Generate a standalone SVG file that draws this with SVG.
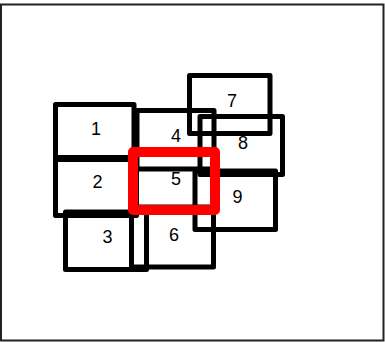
<svg xmlns="http://www.w3.org/2000/svg" width="385" height="342" viewBox="0 0 385 342">
<style>
.box{fill:none;stroke:#000;stroke-width:5;stroke-linejoin:round}
.sel{fill:none;stroke:#f00;stroke-width:10;stroke-linejoin:round}
.lbl{font-family:"Liberation Sans",Arial,sans-serif;font-size:18px;fill:#000;text-anchor:middle}
</style>
<rect x="1" y="4.5" width="382.5" height="336" fill="#fff" stroke="#222" stroke-width="2"/>
<g id="connectors"></g>
<g id="node1"><text class="lbl" x="96" y="135">1</text><rect class="box" x="55.5" y="104.5" width="78.5" height="53"/></g>
<g id="node2"><text class="lbl" x="97.5" y="188">2</text><rect class="box" x="55.5" y="159.5" width="81" height="56"/></g>
<g id="node3"><text class="lbl" x="107.5" y="243">3</text><rect class="box" x="65.5" y="212" width="81" height="57.5"/></g>
<g id="node4"><text class="lbl" x="176" y="142">4</text><rect class="box" x="137" y="110.5" width="77" height="58.5"/></g>
<g id="node6"><text class="lbl" x="174" y="241">6</text><rect class="box" x="131.5" y="207" width="82" height="60"/></g>
<g id="node8"><text class="lbl" x="243" y="148.5">8</text><rect class="box" x="200" y="116.5" width="82.5" height="58"/></g>
<g id="node7"><text class="lbl" x="232" y="107">7</text><rect class="box" x="189.5" y="75.5" width="80.5" height="58"/></g>
<g id="node9"><text class="lbl" x="237.5" y="203">9</text><rect class="box" x="195" y="171" width="80.5" height="58.5"/></g>
<g id="node5"><text class="lbl" x="176" y="185">5</text><rect class="sel" x="133" y="152" width="82" height="58"/></g>
</svg>
